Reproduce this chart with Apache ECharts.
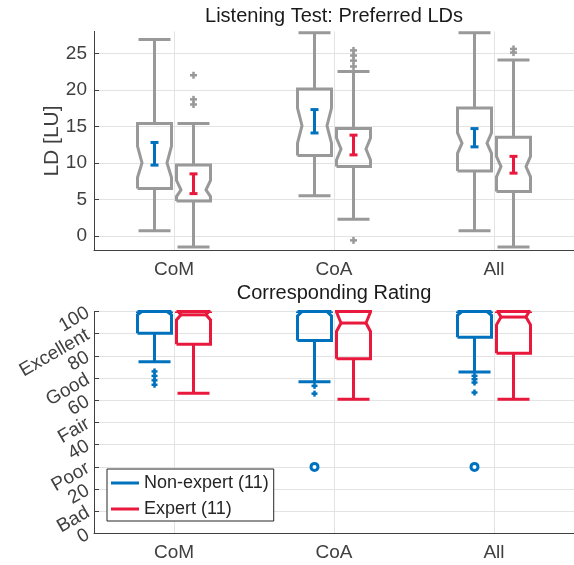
<!DOCTYPE html>
<html><head><meta charset="utf-8">
<script src="https://cdn.jsdelivr.net/npm/echarts@6/dist/echarts.min.js"></script>
<style>html,body{margin:0;padding:0;background:#fff}#c{width:574px;height:565px}</style>
</head><body><div id="c"></div>
<script>
// ---------------- data ----------------
const categories = ['CoM', 'CoA', 'All'];
const ldTickValues = [0, 5, 10, 15, 20, 25];
const ratingTickLabels = ['0', 'Bad', '20', 'Poor', '40', 'Fair', '60', 'Good', '80', 'Excellent', '100'];
const seriesNames = ['Non-expert (11)', 'Expert (11)'];

// box rows: [whiskerLow, q1, notchLow, median, notchHigh, q3, whiskerHigh]
const ldNonExpertBox = [
  [0.7, 6.5, 8.0, 10.0, 12.3, 15.4, 26.9],
  [5.5, 11.0, 12.7, 15.1, 17.5, 20.1, 27.8],
  [0.7, 8.9, 11.3, 12.7, 14.1, 17.5, 27.8]
];
const ldExpertBox = [
  [-1.5, 4.8, 5.4, 6.3, 7.6, 9.7, 15.4],
  [2.3, 9.5, 10.4, 11.9, 13.4, 14.7, 22.5],
  [-1.5, 6.1, 8.1, 9.5, 10.9, 13.5, 24.1]
];
const ldNonExpertOutliers = [[], [], []];
const ldExpertOutliers = [[22.0, 18.7, 18.0], [25.4, 24.7, 24.0, 23.2, -0.6], [25.6, 25.1]];
// confidence intervals of the mean [low, high]
const ldNonExpertCI = [[9.7, 12.8], [14.1, 17.3], [12.2, 14.7]];
const ldExpertCI = [[5.8, 8.5], [11.1, 13.8], [8.6, 10.9]];

const ratingNonExpertBox = [
  [77.4, 90.2, 98.5, 100, 101.5, 100, 100],
  [68.4, 86.9, 98.0, 100, 102.0, 100, 100],
  [72.7, 88.4, 98.3, 100, 101.7, 100, 100]
];
const ratingExpertBox = [
  [63.2, 85.3, 96.2, 98.5, 100.8, 100, 100],
  [60.5, 78.7, 91.0, 94.8, 99.8, 100, 100],
  [60.5, 81.2, 94.0, 97.5, 101.0, 100, 100]
];
const ratingNonExpertOutliers = [[73, 71, 69, 67], [66.5, 63], [71, 69.5, 68, 63.5]];
const ratingNonExpertFarOutliers = [[], [30], [30]];
const ratingExpertOutliers = [[], [], []];

// ---------------- styles ----------------
const FONT = '"Liberation Sans", Arial, Helvetica, sans-serif';
const GRAY = '#999999';
const BLUE = '#0072bd';
const RED = '#e8193c';
const AXIS = '#404040';
const GRID = '#e3e3e3';
const OFF = 19.5;

function boxRows(rows) { return rows.map((r, i) => [i].concat(r)); }
function pointRows(lists) {
  const out = [];
  lists.forEach((l, i) => l.forEach(v => out.push([i, v])));
  return out;
}

function clipPoly(pts, top) {
  const out = []; let cur = [];
  for (let i = 0; i < pts.length - 1; i++) {
    const [x1, y1] = pts[i], [x2, y2] = pts[i + 1];
    if (y1 < top && y2 < top) { if (cur.length) { out.push(cur); cur = []; } continue; }
    let a = [x1, y1], b = [x2, y2];
    if (y1 < top) a = [x1 + (x2 - x1) * (top - y1) / (y2 - y1), top];
    if (y2 < top) b = [x1 + (x2 - x1) * (top - y1) / (y2 - y1), top];
    if (!cur.length) cur.push(a);
    else { const l = cur[cur.length - 1]; if (Math.abs(l[0] - a[0]) > 0.01 || Math.abs(l[1] - a[1]) > 0.01) { out.push(cur); cur = [a]; } }
    cur.push(b);
    if (y2 < top) { out.push(cur); cur = []; }
  }
  if (cur.length > 1) out.push(cur);
  return out;
}

function boxRenderer(offset, color, drawMedian) {
  return function (params, api) {
    const idx = api.value(0);
    const wl = api.value(1), q1 = api.value(2), nl = api.value(3), md = api.value(4),
          nh = api.value(5), q3 = api.value(6), wh = api.value(7);
    const cx = api.coord([idx, md])[0] + offset;
    const y = v => api.coord([idx, v])[1];
    const top = params.coordSys.y - 0.01;
    const hw = 17, ind = 4.5, cap = 16;
    const L = cx - hw, R = cx + hw;
    const style = { stroke: color, lineWidth: 3, fill: null, lineJoin: 'miter' };
    const polys = [];
    polys.push([[L, y(q1)], [L, y(nl)], [L + ind, y(md)], [L, y(nh)], [L, y(q3)], [R, y(q3)], [R, y(nh)], [R - ind, y(md)], [R, y(nl)], [R, y(q1)], [L, y(q1)]]);
    polys.push([[cx, y(q3)], [cx, y(wh)]]);
    polys.push([[cx - cap, y(wh)], [cx + cap, y(wh)]]);
    polys.push([[cx, y(q1)], [cx, y(wl)]]);
    polys.push([[cx - cap, y(wl)], [cx + cap, y(wl)]]);
    if (drawMedian) polys.push([[L + ind, y(md)], [R - ind, y(md)]]);
    const children = [];
    polys.forEach(p => clipPoly(p, top).forEach(seg => children.push({ type: 'polyline', shape: { points: seg }, style: style })));
    return { type: 'group', children };
  };
}

function ciRenderer(offset, color) {
  return function (params, api) {
    const idx = api.value(0);
    const lo = api.coord([idx, api.value(1)]), hi = api.coord([idx, api.value(2)]);
    const x = lo[0] + offset, c = 4;
    const st = { stroke: color, lineWidth: 3 };
    return { type: 'group', children: [
      { type: 'line', shape: { x1: x, y1: lo[1], x2: x, y2: hi[1] }, style: st },
      { type: 'line', shape: { x1: x - c, y1: lo[1], x2: x + c, y2: lo[1] }, style: st },
      { type: 'line', shape: { x1: x - c, y1: hi[1], x2: x + c, y2: hi[1] }, style: st }
    ] };
  };
}

function plusRenderer(offset, color, s) {
  return function (params, api) {
    const p = api.coord([api.value(0), api.value(1)]);
    const x = p[0] + offset, yy = p[1];
    const st = { stroke: color, lineWidth: 2.5 };
    return { type: 'group', children: [
      { type: 'line', shape: { x1: x - s, y1: yy, x2: x + s, y2: yy }, style: st },
      { type: 'line', shape: { x1: x, y1: yy - s, x2: x, y2: yy + s }, style: st }
    ] };
  };
}

function circleRenderer(offset, color) {
  return function (params, api) {
    const p = api.coord([api.value(0), api.value(1)]);
    return { type: 'circle', shape: { cx: p[0] + offset, cy: p[1], r: 3.5 }, style: { stroke: color, lineWidth: 3, fill: '#fff' } };
  };
}

function custom(name, grid, data, renderItem, color, dims) {
  return {
    type: 'custom', name: name, xAxisIndex: grid, yAxisIndex: grid,
    data: data, renderItem: renderItem, silent: true,
    itemStyle: { color: color },
    encode: { x: 0, y: dims }
  };
}

function xAxisCfg(gi) {
  return {
    gridIndex: gi, type: 'category', data: categories, boundaryGap: true,
    axisLine: { onZero: false, lineStyle: { color: AXIS, width: 1 } },
    axisTick: { inside: true, alignWithLabel: true, length: 5, lineStyle: { color: AXIS } },
    axisLabel: { color: AXIS, fontSize: 19, fontFamily: FONT, margin: 10 },
    splitLine: { show: true, alignWithLabel: true, lineStyle: { color: GRID, width: 1 } }
  };
}

const option = {
  animation: false,
  backgroundColor: '#fff',
  textStyle: { fontFamily: FONT },
  title: [
    { text: 'Listening Test: Preferred LDs', left: 334, top: 6, textAlign: 'center', padding: 0,
      textStyle: { fontSize: 20, fontWeight: 'normal', color: '#1a1a1a', fontFamily: FONT } },
    { text: 'Corresponding Rating', left: 334, top: 283, textAlign: 'center', padding: 0,
      textStyle: { fontSize: 20, fontWeight: 'normal', color: '#1a1a1a', fontFamily: FONT } }
  ],
  grid: [
    { left: 94, right: 0, top: 31.4, height: 219.2 },
    { left: 94, right: 0, top: 311.5, height: 222 }
  ],
  xAxis: [xAxisCfg(0), xAxisCfg(1)],
  yAxis: [
    {
      gridIndex: 0, type: 'value', min: -2, max: 28,
      name: 'LD [LU]', nameLocation: 'middle', nameGap: 31, nameMoveOverlap: false,
      nameTextStyle: { fontSize: 21, color: AXIS, fontFamily: FONT },
      axisLine: { show: true, lineStyle: { color: AXIS, width: 1 } },
      axisTick: { show: true, inside: true, length: 5, customValues: ldTickValues, lineStyle: { color: AXIS } },
      axisLabel: { color: AXIS, fontSize: 19, fontFamily: FONT, margin: 7, customValues: ldTickValues },
      splitLine: { show: true, lineStyle: { color: GRID, width: 1 } }
    },
    {
      gridIndex: 1, type: 'value', min: 0, max: 100, interval: 10,
      axisLine: { show: true, lineStyle: { color: AXIS, width: 1 } },
      axisTick: { show: true, inside: true, length: 5, lineStyle: { color: AXIS } },
      axisLabel: { color: AXIS, fontSize: 19, fontFamily: FONT, margin: 6, rotate: 30,
        formatter: v => ratingTickLabels[Math.round(v / 10)] },
      splitLine: { show: true, lineStyle: { color: GRID, width: 1 } }
    }
  ],
  legend: {
    orient: 'vertical', left: 107, top: 469,
    itemWidth: 28, itemHeight: 3, itemGap: 8,
    padding: [5, 5, 3, 4],
    backgroundColor: '#fff', borderColor: '#262626', borderWidth: 1, borderRadius: 0,
    textStyle: { fontSize: 18, color: '#262626', fontFamily: FONT, lineHeight: 18 },
    data: [
      { name: seriesNames[0], icon: 'rect', itemStyle: { color: BLUE } },
      { name: seriesNames[1], icon: 'rect', itemStyle: { color: RED } }
    ],
    selectedMode: false
  },
  series: [
    custom('ld-nonexpert', 0, boxRows(ldNonExpertBox), boxRenderer(-OFF, GRAY, false), GRAY, [1, 2, 3, 4, 5, 6, 7]),
    custom('ld-expert', 0, boxRows(ldExpertBox), boxRenderer(OFF, GRAY, false), GRAY, [1, 2, 3, 4, 5, 6, 7]),
    custom('ld-nonexpert-out', 0, pointRows(ldNonExpertOutliers), plusRenderer(-OFF, GRAY, 3.5), GRAY, [1]),
    custom('ld-expert-out', 0, pointRows(ldExpertOutliers), plusRenderer(OFF, GRAY, 3.5), GRAY, [1]),
    custom('ld-nonexpert-ci', 0, boxRows(ldNonExpertCI), ciRenderer(-OFF, BLUE), BLUE, [1, 2]),
    custom('ld-expert-ci', 0, boxRows(ldExpertCI), ciRenderer(OFF, RED), RED, [1, 2]),
    custom(seriesNames[0], 1, boxRows(ratingNonExpertBox), boxRenderer(-OFF, BLUE, true), BLUE, [1, 2, 3, 4, 5, 6, 7]),
    custom(seriesNames[1], 1, boxRows(ratingExpertBox), boxRenderer(OFF, RED, true), RED, [1, 2, 3, 4, 5, 6, 7]),
    custom('rating-nonexpert-out', 1, pointRows(ratingNonExpertOutliers), plusRenderer(-OFF, BLUE, 3), BLUE, [1]),
    custom('rating-nonexpert-far', 1, pointRows(ratingNonExpertFarOutliers), circleRenderer(-OFF, BLUE), BLUE, [1]),
    custom('rating-expert-out', 1, pointRows(ratingExpertOutliers), plusRenderer(OFF, RED, 3), RED, [1])
  ]
};

const chart = echarts.init(document.getElementById('c'), null, { renderer: 'canvas' });
chart.setOption(option);
</script>
</body></html>
